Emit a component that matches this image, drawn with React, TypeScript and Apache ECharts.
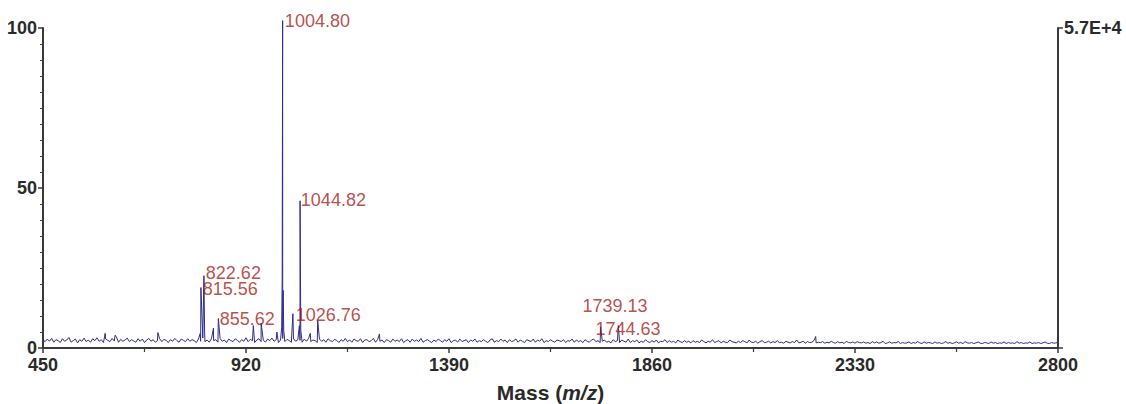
import React, { useEffect, useRef } from "react";
import * as echarts from "echarts";

// Baseline noise, one reading every 5 m/z starting at 450
const noiseStart = 450;
const noiseStep = 5;
const noise = [
  2.5,2.0,2.8,2.1,3.0,1.8,2.6,2.3,1.7,2.9,2.1,2.5,3.3,1.8,2.3,2.8,1.6,2.6,2.1,3.1,
  2.0,2.5,1.8,2.9,2.3,3.2,2.1,2.6,1.7,2.8,2.4,2.0,3.0,2.2,3.4,1.8,2.7,2.1,2.5,3.1,
  2.0,2.6,2.2,1.8,2.9,2.1,2.8,1.7,2.5,3.0,2.1,2.6,1.8,2.3,2.9,2.0,2.7,2.4,1.7,2.6,
  2.1,3.0,2.3,1.8,2.8,2.4,2.0,2.9,2.1,2.6,2.3,1.7,2.8,2.1,3.1,2.0,2.5,1.8,2.9,2.3,
  2.6,1.8,3.0,2.1,2.5,1.7,2.8,2.3,2.0,2.9,2.4,1.8,2.6,2.1,3.2,2.0,2.7,2.3,1.7,2.5,
  2.9,2.0,2.5,1.8,2.8,2.3,3.1,2.1,2.6,1.7,2.5,3.0,2.0,2.7,2.3,1.8,2.9,2.1,2.6,2.4,
  1.8,2.8,2.1,3.0,2.0,2.5,2.3,1.7,2.8,2.1,2.6,1.8,2.9,2.3,2.0,2.7,2.4,1.7,2.6,2.1,
  3.0,2.0,2.5,1.8,2.8,2.3,2.1,2.9,1.7,2.5,2.6,2.0,2.3,3.0,1.8,2.7,2.1,2.5,1.7,2.6,
  2.3,1.8,2.8,2.1,2.5,2.0,2.9,1.7,2.3,2.6,1.8,2.8,2.1,2.5,2.0,3.0,1.8,2.3,2.6,2.1,
  1.7,2.5,2.0,2.8,2.3,1.8,2.6,2.1,2.9,1.7,2.3,2.5,1.8,2.8,2.0,2.3,2.6,1.7,2.5,2.1,
  2.8,1.8,2.3,2.0,2.6,2.1,1.7,2.5,2.9,1.8,2.3,2.0,2.8,2.1,2.5,1.7,2.6,2.0,2.3,2.8,
  1.8,2.5,2.1,1.7,2.6,2.3,2.0,2.8,1.8,2.5,2.1,2.9,1.7,2.3,2.0,2.6,2.1,1.8,2.5,2.3,
  2.0,2.6,1.7,2.3,2.1,2.8,1.8,2.5,2.0,2.3,1.7,2.6,2.1,1.8,2.5,2.8,2.0,2.3,1.7,2.1,
  2.5,1.8,2.1,1.6,2.6,2.0,2.3,1.7,2.5,2.1,1.8,2.8,1.7,2.3,2.0,2.5,1.6,2.1,1.8,2.6,
  2.0,1.7,2.3,1.8,2.5,1.6,2.1,2.0,2.6,1.7,2.3,1.8,2.1,1.6,2.5,2.0,1.7,2.3,1.8,2.1,
  1.6,2.3,1.8,2.1,1.7,2.5,2.0,1.6,2.1,1.8,2.6,1.7,2.0,2.3,1.6,2.1,1.8,1.7,2.5,2.0,
  1.8,1.6,2.1,1.7,2.3,2.0,1.6,2.5,1.8,1.7,2.1,1.5,2.0,2.3,1.7,1.8,2.1,1.6,2.0,1.7,
  2.3,1.7,1.8,1.5,2.1,1.8,1.6,2.0,1.7,2.5,1.6,1.8,2.1,1.5,2.0,1.7,1.8,2.3,1.6,1.8,
  1.7,2.0,1.5,1.8,1.6,2.1,1.7,1.5,2.0,1.6,1.8,1.4,2.1,1.7,1.6,1.9,1.5,2.0,1.7,1.6,
  1.9,1.5,1.7,1.4,2.0,1.6,1.9,1.5,1.7,2.1,1.4,1.6,1.9,1.5,1.7,1.6,2.0,1.4,1.7,1.5,
  1.6,1.9,1.4,1.7,1.5,2.0,1.6,1.4,1.9,1.5,1.7,1.6,1.4,1.9,1.5,1.7,1.4,1.6,2.0,1.5,
  1.7,1.4,1.6,1.9,1.5,1.7,1.4,2.0,1.6,1.5,1.7,1.4,1.6,1.9,1.5,1.4,1.7,1.6,1.4,1.9,
  1.5,1.7,1.4,1.6,1.5,1.9,1.4,1.7,1.5,1.6,1.4,2.0,1.5,1.7,1.4,1.6,1.5,1.9,1.4,1.6,
  1.5,1.7,1.4,1.6,1.9,1.5,1.4,1.7,1.5,1.6,1.7,
];

// Peak apexes [m/z, relative intensity %]
const peakMass = [594, 617, 716, 815.6, 822.6, 844.7, 856, 937, 955, 991.5, 1004.8, 1028.6, 1045.2, 1068.8, 1086, 1229, 1741, 1782, 2239];
const peakHeight = [4.6, 4.0, 4.8, 18.9, 22.6, 6.2, 9.2, 7.0, 7.8, 5.0, 102.3, 10.7, 46, 4.6, 8.6, 4.4, 6.6, 7.0, 3.6];
// Peak shoulders (broadened bases)
const shoulderMass = [813.8, 824.2, 1002.6, 1003.8, 1006.0, 1007.4, 1043.6, 1046.8];
const shoulderHeight = [4.5, 5.0, 6.5, 22, 18, 5.5, 7, 5.5];

// Annotations: label text and anchor (left edge m/z, vertical centre %)
const labelText = ["1004.80", "1044.82", "822.62", "815.56", "855.62", "1026.76", "1739.13", "1744.63"];
const labelMass = [1010, 1047, 827, 820, 859, 1035, 1699, 1729];
const labelLevel = [102.2, 46.1, 23.3, 18.3, 9.0, 10.3, 13.2, 5.9];

const xTicks = [450, 920, 1390, 1860, 2330, 2800];
const yTicks = [0, 50, 100];
const rightAxisLabel = "5.7E+4";

export default function App() {
  const ref = useRef<HTMLDivElement>(null);
  useEffect(() => {
    if (!ref.current) return;
    const chart = echarts.init(ref.current, null, { renderer: "svg" });

    const pts: [number, number][] = [];
    noise.forEach((v, i) => pts.push([noiseStart + i * noiseStep, v]));
    peakMass.forEach((m, i) => pts.push([m, peakHeight[i]]));
    shoulderMass.forEach((m, i) => pts.push([m, shoulderHeight[i]]));
    pts.sort((a, b) => a[0] - b[0]);

    const labelData = labelText.map((t, i) => [labelMass[i], labelLevel[i], t]);

    const axisColor = "#3a3a3a";
    const tickFont = {
      fontFamily: "Liberation Sans, Arial, sans-serif",
      fontSize: 18,
      fontWeight: "bold" as const,
      color: "#2a2a2a",
    };

    chart.setOption({
      animation: false,
      backgroundColor: "#ffffff",
      grid: { left: 43, right: 68, top: 28, bottom: 56, containLabel: false, outerBoundsMode: "none" },
      xAxis: {
        type: "value",
        min: xTicks[0],
        max: xTicks[xTicks.length - 1],
        interval: xTicks[1] - xTicks[0],
        axisLine: { show: true, onZero: false, lineStyle: { color: axisColor, width: 2 } },
        axisTick: { show: true, length: 5, lineStyle: { color: axisColor, width: 1.5 } },
        minorTick: { show: true, splitNumber: 2, length: 4, lineStyle: { color: axisColor, width: 1.2 } },
        splitLine: { show: false },
        axisLabel: { ...tickFont, margin: 8, formatter: (v: number) => String(v) },
        name: "{b|Mass (}{i|m/z}{b|)}",
        nameLocation: "middle",
        nameGap: 34,
        nameTextStyle: {
          rich: {
            b: { fontFamily: "Liberation Sans, Arial, sans-serif", fontSize: 21, fontWeight: "bold", color: "#2a2a2a" },
            i: { fontFamily: "Liberation Sans, Arial, sans-serif", fontSize: 21, fontWeight: "bold", fontStyle: "italic", color: "#2a2a2a" },
          },
        },
      },
      yAxis: [
        {
          type: "value",
          position: "left",
          min: yTicks[0],
          max: yTicks[yTicks.length - 1],
          interval: yTicks[1] - yTicks[0],
          axisLine: { show: true, lineStyle: { color: axisColor, width: 2 } },
          axisTick: { show: true, length: 5, lineStyle: { color: axisColor, width: 1.5 } },
          minorTick: { show: true, splitNumber: 10, length: 3, lineStyle: { color: axisColor, width: 1 } },
          splitLine: { show: false },
          axisLabel: { ...tickFont, margin: 6 },
        },
        {
          type: "value",
          position: "right",
          min: 0,
          max: 100,
          interval: 100,
          axisLine: { show: true, lineStyle: { color: axisColor, width: 2 } },
          axisTick: { show: true, length: 5, lineStyle: { color: axisColor, width: 1.5 } },
          splitLine: { show: false },
          axisLabel: { ...tickFont, margin: 6, formatter: (v: number) => (v === 100 ? rightAxisLabel : "") },
        },
      ],
      series: [
        {
          type: "line",
          data: pts,
          showSymbol: false,
          symbol: "none",
          clip: false,
          lineStyle: { color: "#2d2d8a", width: 1 },
          z: 2,
        },
        {
          type: "scatter",
          data: labelData,
          symbolSize: 0,
          clip: false,
          silent: true,
          label: {
            show: true,
            position: "right",
            distance: 0,
            formatter: (p: any) => p.value[2],
            fontFamily: "Liberation Sans, Arial, sans-serif",
            fontSize: 18,
            color: "#a8221a",
          },
          z: 3,
        },
      ],
    });
    return () => chart.dispose();
  }, []);
  return <div ref={ref} style={{ position: "fixed", left: 0, top: 0, width: 1126, height: 404 }} />;
}
